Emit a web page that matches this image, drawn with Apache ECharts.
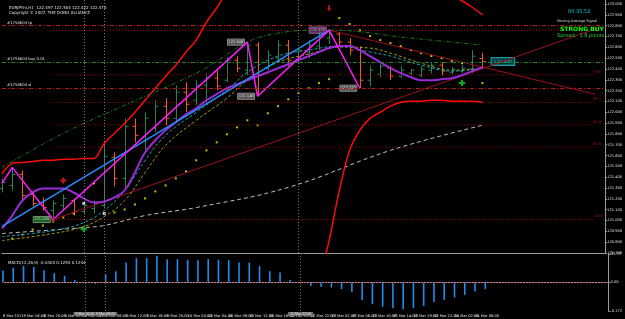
<!DOCTYPE html>
<html>
<head>
<meta charset="utf-8">
<script src="https://cdn.jsdelivr.net/npm/echarts@6.0.0/dist/echarts.min.js"></script>
<style>
html,body{margin:0;padding:0;background:#000;}
#main{width:625px;height:319px;}
</style>
</head>
<body>
<div id="main"></div>
<script>
// H2 bars, 8 Mar 12:00 .. 14 Mar 08:00 (weekend skipped)
var times = ['8 Mar 12:00','8 Mar 14:00','8 Mar 16:00','8 Mar 18:00','8 Mar 20:00','8 Mar 22:00',
  '9 Mar 00:00','9 Mar 02:00','9 Mar 04:00','9 Mar 06:00','9 Mar 08:00','9 Mar 10:00','9 Mar 12:00',
  '9 Mar 14:00','9 Mar 16:00','9 Mar 18:00','9 Mar 20:00','9 Mar 22:00','10 Mar 00:00','10 Mar 02:00',
  '10 Mar 04:00','10 Mar 06:00','10 Mar 08:00','10 Mar 10:00','10 Mar 12:00','10 Mar 14:00','10 Mar 16:00',
  '10 Mar 18:00','10 Mar 20:00','10 Mar 22:00','12 Mar 22:00','13 Mar 00:00','13 Mar 02:00','13 Mar 04:00',
  '13 Mar 06:00','13 Mar 08:00','13 Mar 10:00','13 Mar 12:00','13 Mar 14:00','13 Mar 16:00','13 Mar 18:00',
  '13 Mar 20:00','13 Mar 22:00','14 Mar 00:00','14 Mar 02:00','14 Mar 04:00','14 Mar 06:00','14 Mar 08:00'];
var emptySlots = 11; // chart shift on the right

var opens = [121.296,121.324,121.426,121.241,121.167,121.093,121.139,121.185,121.083,121.111,
  121.139,121.583,121.389,121.870,121.778,121.852,122.056,121.944,122.185,122.111,
  122.250,122.315,122.296,122.481,122.389,122.620,122.407,122.500,122.620,122.481,
  122.556,122.611,122.685,122.722,122.648,122.574,122.296,122.352,122.407,122.333,
  122.361,122.343,122.389,122.435,122.370,122.380,122.398,122.497];
var highs = [121.389,121.491,121.463,121.278,121.213,121.185,121.241,121.204,121.167,121.185,
  121.713,121.630,121.944,121.944,122.000,122.111,122.130,122.250,122.278,122.296,
  122.361,122.389,122.509,122.518,122.648,122.648,122.574,122.667,122.667,122.593,
  122.667,122.741,122.759,122.741,122.685,122.611,122.426,122.454,122.426,122.426,
  122.398,122.426,122.463,122.463,122.417,122.435,122.574,122.550];
var lows = [121.259,121.278,121.185,121.130,121.093,121.009,121.102,121.046,121.056,121.065,
  121.111,121.315,121.306,121.722,121.648,121.815,121.880,121.907,122.000,122.065,
  122.083,122.204,122.278,122.370,122.343,122.148,122.389,122.463,122.426,122.444,
  122.500,122.574,122.630,122.611,122.528,122.222,122.241,122.324,122.296,122.315,
  122.343,122.324,122.361,122.343,122.343,122.361,122.361,122.400];
var closes = [121.352,121.426,121.231,121.157,121.120,121.157,121.204,121.083,121.139,121.157,
  121.593,121.389,121.870,121.787,121.944,122.056,121.944,122.185,122.074,122.250,
  122.315,122.241,122.481,122.407,122.620,122.343,122.528,122.620,122.481,122.574,
  122.620,122.704,122.722,122.648,122.574,122.296,122.389,122.426,122.333,122.389,
  122.389,122.398,122.435,122.380,122.398,122.407,122.518,122.470];

var macdHist = [0.072,0.090,0.100,0.094,0.074,0.056,0.040,0.014,0.001,-0.008,
  0.050,0.068,0.121,0.147,0.147,0.161,0.141,0.141,0.137,0.135,
  0.141,0.137,0.135,0.121,0.121,0.099,0.068,0.060,0.016,-0.003,
  -0.021,-0.027,-0.030,-0.040,-0.057,-0.105,-0.131,-0.145,-0.155,-0.161,
  -0.155,-0.141,-0.117,-0.105,-0.091,-0.075,-0.054,-0.040];

var upperBand = [121.435,121.528,121.537,121.546,121.556,121.556,121.565,121.565,121.574,121.574,
  121.713,121.806,121.898,122.000,122.111,122.222,122.333,122.435,122.556,122.667,
  122.833,122.963,123.111,123.200,123.280,123.350,123.400,123.450,123.480,123.500,
  123.500,123.500,123.480,123.450,123.420,123.380,123.340,123.300,123.270,123.240,
  123.220,123.200,123.160,123.120,123.080,123.030,122.970,122.900];
var lowerBand = [null,null,null,null,null,null,null,null,null,null,
  null,null,null,null,null,null,null,null,null,null,
  null,null,null,null,null,null,null,null,null,null,
  null,120.450,120.815,121.278,121.648,121.833,121.944,122.000,122.056,122.093,
  122.102,122.102,122.111,122.111,122.102,122.102,122.102,122.093];
var fastMa = [120.926,121.046,121.185,121.259,121.296,121.296,121.296,121.259,121.204,121.167,
  121.176,121.213,121.278,121.444,121.630,121.741,121.833,121.907,121.981,122.037,
  122.111,122.167,122.222,122.259,122.296,122.333,122.370,122.407,122.444,122.481,
  122.518,122.556,122.593,122.611,122.611,122.574,122.518,122.463,122.407,122.361,
  122.324,122.296,122.296,122.306,122.315,122.343,122.380,122.417];

// sparse readings [bar, price]
var tealMa = [[0,120.852],[5,120.907],[8,120.981],[10,121.093],[12,121.278],[14,121.556],[16,121.787],
  [19,122.000],[22,122.204],[24,122.370],[27,122.519],[30,122.574],[33,122.611],[36,122.556],
  [38,122.519],[41,122.435],[44,122.380],[47,122.407]];
var oliveMa = [[0,120.815],[5,120.880],[8,120.944],[10,121.037],[12,121.185],[14,121.444],[16,121.694],
  [19,121.926],[22,122.130],[24,122.296],[27,122.463],[30,122.537],[33,122.602],[36,122.593],
  [38,122.546],[41,122.454],[44,122.389],[47,122.407]];
var greenEnv = [[0,121.491],[6,121.806],[12,122.065],[19,122.361],[26,122.713],[32,122.759],[40,122.685],[47,122.620]];
var slowMa = [[0,120.880],[8,120.935],[10,120.954],[14,121.046],[19,121.120],[28,121.306],[38,121.648],[47,121.880]];
var sarDots = [[1,120.833],[2,120.870],[3,120.917],[4,120.954],[5,120.991],[6,121.028],[7,121.065],[9,121.343],
  [11,121.074],[12,121.102],[13,121.148],[14,121.204],[15,121.269],[16,121.324],[17,121.389],[18,121.454],
  [19,121.556],[20,121.648],[21,121.722],[22,121.796],[23,121.861],[24,121.926],[25,121.880],[26,121.991],
  [27,122.056],[28,122.120],[29,122.176],[30,122.222],[31,122.269],[32,122.306],
  [33,122.870],[34,122.815],[35,122.759],[36,122.704],[37,122.667],[38,122.639],[39,122.611],[40,122.574],
  [41,122.546],[42,122.519],[43,122.500],[44,122.472],[45,122.454],[47,122.269]];

var zigzagBars = [0,1,5,24,25,32,35];
var zigzagPrices = [121.343,121.491,121.009,122.648,122.148,122.759,122.222];
var blueLine = [[0,120.945],[32,122.759]];
var trendDown = [[32,122.759],[58,122.167]];
var trendUp = [[5,121.009],[58,122.768]];
var fibLevels = [0,23.6,38.2,50,61.8,100];
var fibTop = 122.759, fibBottom = 121.009, fibStart = 5;

var buySignals = [[8,120.920],[45,122.270]];
var sellSignals = [[6,121.370]];
var downArrows = [[32,122.963]];
var whiteMarks = [[8,121.157],[10,121.065]];
var vLines = [8,10,29];

var tpPrice = 122.796, buyPrice = 122.463, slPrice = 122.222, lastPrice = 122.470;
var yTicksMin = 120.7, yTicksMax = 123.037, yStep = 0.1;

var slots = times.concat(new Array(emptySlots + 1).join('.').split('.'));
var lastSlot = slots.length - 1;

var upColor = '#2a8058', downColor = '#f05a1e';
var ohlc = times.map(function(t, i){ return [i, opens[i], highs[i], lows[i], closes[i]]; });

var font = 'DejaVu Sans';
var myChart = echarts.init(document.getElementById('main'));

function sparkLine(data, color, type, width){
  return {type:'line', data:data, symbol:'none', smooth:0.4, silent:true,
    lineStyle:{color:color, width:width || 1, type:type || 'solid'}};
}

var fibSeries = fibLevels.map(function(pct){
  var p = fibTop - (fibTop - fibBottom) * pct / 100;
  return {type:'line', symbol:'none', silent:true, data:[[fibStart,p],[lastSlot - 1,p]],
    lineStyle:{color:'#a00000', width:1, type:[1,2]},
    endLabel:{show: pct > 0, formatter: pct.toFixed(1), color:'#b01010', fontSize:3.6, fontFamily:font, offset:[-10,-3]}};
});

var zigzagLabels = [null,null,'#1f7a2a','#6b6b6b','#6b6b6b','#7b2a8b','#6b6b6b'];

var option = {
  backgroundColor:'#000',
  animation:false,
  title:[
    {text:'EURJPYm,H1  122.497 122.504 122.422 122.470', left:4, top:1, textStyle:{color:'#e0e0e0', fontSize:4, fontWeight:'normal', fontFamily:font}},
    {text:'Copyright © 2007, THE DONG ALLIANCE', left:4, top:6, textStyle:{color:'#e0e0e0', fontSize:4, fontWeight:'normal', fontFamily:font}},
    {text:'00:35:52', left:563, top:4, textStyle:{color:'#00d0d8', fontSize:5, fontWeight:'normal', fontFamily:font}},
    {text:'Moving Average Signal', left:552, top:14, textStyle:{color:'#d8d8d8', fontSize:3.5, fontWeight:'normal', fontFamily:font}},
    {text:'STRONG BUY', left:555, top:21, textStyle:{color:'#00ff00', fontSize:6, fontWeight:'bold', fontFamily:font}},
    {text:'Spread:  1.8 points', left:552, top:28, textStyle:{color:'#3ad23a', fontSize:5, fontWeight:'normal', fontFamily:font}},
    {text:'MACD(12,26,9) -0.0304 0.1254 0.1244', left:3, top:256, textStyle:{color:'#e0e0e0', fontSize:4, fontWeight:'normal', fontFamily:font}}
  ],
  grid:[
    {left:2, right:14, top:0, height:253},
    {left:2, right:14, top:254, height:57}
  ],
  xAxis:[
    {type:'category', gridIndex:0, data:slots, boundaryGap:false,
      axisLine:{show:true, lineStyle:{color:'#9a9a9a'}}, axisTick:{show:false}, axisLabel:{show:false}, splitLine:{show:false}},
    {type:'category', gridIndex:1, data:slots, boundaryGap:false,
      axisLine:{show:true, lineStyle:{color:'#9a9a9a'}}, axisTick:{show:false}, splitLine:{show:false},
      axisLabel:{interval:1, align:'left', margin:3, color:'#e8e8e8', fontSize:3.6, fontFamily:font,
        formatter:function(v, i){ return i === 0 ? '8 Mar 2017' : v; }}}
  ],
  yAxis:[
    {type:'value', gridIndex:0, position:'right', min:yTicksMin, max:yTicksMax, interval:yStep, scale:true,
      axisLine:{show:true, lineStyle:{color:'#9a9a9a'}}, axisTick:{show:true, length:2, lineStyle:{color:'#9a9a9a'}},
      splitLine:{show:false}, axisLabel:{showMaxLabel:false, color:'#e0e0e0', fontSize:3.6, fontFamily:font, margin:2,
        formatter:function(v){ return v.toFixed(3); }}},
    {type:'value', gridIndex:1, position:'right', min:-0.172, max:0.172, interval:0.172,
      axisLine:{show:true, lineStyle:{color:'#9a9a9a'}}, axisTick:{show:true, length:2, lineStyle:{color:'#9a9a9a'}},
      splitLine:{show:false}, axisLabel:{color:'#e0e0e0', fontSize:3.6, fontFamily:font, margin:2,
        formatter:function(v){ return v === 0 ? '0.00' : v.toFixed(3); }}}
  ],
  series: fibSeries.concat([
    // order lines and vertical separators
    {type:'line', data:[], symbol:'none', silent:true,
      markLine:{symbol:['none','none'], silent:true, animation:false,
        label:{fontSize:3.8, fontFamily:font, color:'#e0e0e0'},
        data:[
          {yAxis:tpPrice, lineStyle:{color:'#c01818', type:[4,2,1,2], width:1}, label:{position:'insideStartTop', formatter:'#1758604 tp', distance:[5,1]}},
          {yAxis:buyPrice, lineStyle:{color:'#1f8a1f', type:[4,2,1,2], width:1}, label:{position:'insideStartTop', formatter:'#1758604 buy 0.01', distance:[5,1]}},
          {yAxis:slPrice, lineStyle:{color:'#c01818', type:[4,2,1,2], width:1}, label:{position:'insideStartTop', formatter:'#1758604 sl', distance:[5,1]}},
          {yAxis:lastPrice, lineStyle:{opacity:0}, label:{position:'end', formatter:lastPrice.toFixed(3), color:'#000', backgroundColor:'#f0f0f0', padding:[0,1], distance:1, fontSize:3.6}},
          {xAxis:vLines[0], lineStyle:{color:'#777', type:[1,2], width:1}, label:{show:false}},
          {xAxis:vLines[1], lineStyle:{color:'#777', type:[1,2], width:1}, label:{show:false}},
          {xAxis:vLines[2], lineStyle:{color:'#777', type:[1,2], width:1}, label:{show:false}}
        ]}},
    sparkLine(slowMa, '#bdbdbd', [4,3], 1),
    {type:'line', data:trendUp, symbol:['none','circle'], symbolSize:3, showSymbol:true, silent:true, lineStyle:{color:'#9a1020', width:1}, itemStyle:{color:'none', borderColor:'#b01020'}},
    {type:'line', data:trendDown, symbol:'none', silent:true, lineStyle:{color:'#9a1020', width:1}},
    {type:'line', data:upperBand, symbol:'none', smooth:0.3, silent:true, lineStyle:{color:'#ff0a0a', width:1.5}},
    {type:'line', data:lowerBand, symbol:'none', smooth:0.3, silent:true, connectNulls:false, lineStyle:{color:'#ff0a0a', width:1.5}},
    sparkLine(greenEnv, '#1f7a1f', [4,2,1,2], 1),
    sparkLine(oliveMa, '#9a9a1a', [3,2], 1),
    sparkLine(tealMa, '#1aa0a0', [3,2], 1),
    {type:'line', data:fastMa, symbol:'none', smooth:0.4, silent:true, lineStyle:{color:'#9a2ad8', width:2}},
    {type:'line', data:blueLine, symbol:'none', silent:true, lineStyle:{color:'#2090ff', width:1.5}},
    {type:'line', data:zigzagBars.map(function(b, i){ return [b, zigzagPrices[i]]; }), symbol:'none', silent:true,
      lineStyle:{color:'#ff1aff', width:1.5}},
    {type:'custom', data:ohlc, encode:{x:0, y:[1,2,3,4]}, silent:true,
      renderItem:function(params, api){
        var i = api.value(0);
        var o = api.coord([i, api.value(1)]);
        var h = api.coord([i, api.value(2)]);
        var l = api.coord([i, api.value(3)]);
        var c = api.coord([i, api.value(4)]);
        var col = api.value(4) >= api.value(1) ? upColor : downColor;
        var x = Math.round(h[0]) + 0.5;
        return {type:'group', children:[
          {type:'line', shape:{x1:x, y1:h[1], x2:x, y2:l[1]}, style:{stroke:col, lineWidth:1}},
          {type:'line', shape:{x1:x - 3, y1:o[1], x2:x, y2:o[1]}, style:{stroke:col, lineWidth:1}},
          {type:'line', shape:{x1:x, y1:c[1], x2:x + 3, y2:c[1]}, style:{stroke:col, lineWidth:1}}
        ]};
      }},
    {type:'scatter', data:sarDots, symbol:'rect', symbolSize:2, silent:true, itemStyle:{color:'#f0f000'}},
    {type:'scatter', data:buySignals, symbol:'path://M2,0H4V2H6V4H4V6H2V4H0V2H2Z', symbolSize:6, silent:true, itemStyle:{color:'#00e020'}},
    {type:'scatter', data:sellSignals, symbol:'path://M2,0H4V2H6V4H4V6H2V4H0V2H2Z', symbolSize:6, silent:true, itemStyle:{color:'#ff1a1a'}},
    {type:'scatter', data:downArrows, symbol:'path://M2,0H4V4H6L3,7L0,4H2Z', symbolSize:[5,6], silent:true, itemStyle:{color:'#ff1a1a'}},
    {type:'scatter', data:whiteMarks, symbol:'rect', symbolSize:3, silent:true, itemStyle:{color:'#f4f4f4'}},
    {type:'scatter', symbolSize:0, silent:true,
      data:zigzagBars.map(function(b, i){
        return {value:[b, zigzagPrices[i]], label:{show: !!zigzagLabels[i], backgroundColor:zigzagLabels[i] || 'transparent'}};
      }),
      label:{position:'left', distance:3, formatter:function(p){ return p.value[1].toFixed(3); },
        color:'#f0f0f0', fontSize:3.6, fontFamily:font, padding:[1,1], borderColor:'#c8c8c8', borderWidth:0.5}},
    {type:'scatter', symbolSize:0, silent:true, data:[[49, lastPrice]],
      label:{show:true, position:'inside', formatter:lastPrice.toFixed(3), color:'#30e8f0', backgroundColor:'#0b3f48',
        borderColor:'#20c8d0', borderWidth:1, padding:[1,2], fontSize:4.5, fontFamily:font}},
    // MACD panel
    {type:'bar', xAxisIndex:1, yAxisIndex:1, data:macdHist, barWidth:1.6, silent:true, itemStyle:{color:'#1e8cf0'},
      markLine:{symbol:['none','none'], silent:true, animation:false,
        data:[
          {yAxis:0, lineStyle:{color:'#a01010', type:[1,2], width:1}, label:{show:false}},
          {xAxis:vLines[0], lineStyle:{color:'#777', type:[1,2], width:1},
            label:{position:'start', formatter:times[vLines[0]], color:'#e8e8e8', backgroundColor:'#6e6e6e', padding:[0,2], fontSize:3.6, distance:1}},
          {xAxis:vLines[1], lineStyle:{color:'#777', type:[1,2], width:1},
            label:{position:'start', formatter:times[vLines[1]], color:'#e8e8e8', backgroundColor:'#6e6e6e', padding:[0,2], fontSize:3.6, distance:1}},
          {xAxis:vLines[2], lineStyle:{color:'#777', type:[1,2], width:1},
            label:{position:'start', formatter:times[vLines[2]], color:'#e8e8e8', backgroundColor:'#6e6e6e', padding:[0,2], fontSize:3.6, distance:1}}
        ]}}
  ])
};
myChart.setOption(option);
</script>
</body>
</html>
